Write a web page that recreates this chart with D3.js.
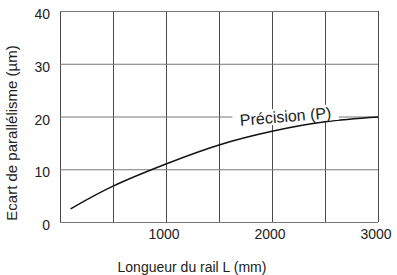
<!DOCTYPE html>
<html>
<head>
<meta charset="utf-8">
<script src="https://cdnjs.cloudflare.com/ajax/libs/d3/7.8.5/d3.min.js"></script>
<style>
    body { margin: 0; background: #fff; }
    svg { display: block; font-family: "Liberation Sans", Arial, Helvetica, sans-serif; }
    .grid path { display: none; }
</style>
</head>
<body>
<svg width="397" height="275"></svg>
<script>
// rail length (mm) and parallelism deviation (um)
var lengths = [100, 500, 1000, 1500, 2000, 2500, 3000];
var deviation = [2.5, 6.8, 11.0, 14.6, 17.2, 19.0, 19.9];

var xTicks = [1000, 2000, 3000];
var xGrid = [0, 500, 1000, 1500, 2000, 2500, 3000];
var yTicks = [0, 10, 20, 30, 40];

(() => {

    var width = 397;
    var height = 275;
    var margin = { top: 11, bottom: 53, left: 60, right: 19 };

    var svg = d3.select('svg');

    var x = d3.scaleLinear().domain([0, 3000]).range([margin.left, width - margin.right]);
    var y = d3.scaleLinear().domain([0, 40]).range([height - margin.bottom, margin.top]);

    // vertical grid lines
    svg.append("g")
        .attr("class", "grid")
        .attr('transform', 'translate(' + [0, height - margin.bottom] + ')')
        .call(d3.axisBottom(x).tickValues(xGrid).tickSize(-(height - margin.bottom - margin.top)).tickFormat(""))
        .selectAll("line").style("stroke", "#4a4a4a");

    // horizontal grid lines
    svg.append("g")
        .attr("class", "grid")
        .attr('transform', 'translate(' + [margin.left, 0] + ')')
        .call(d3.axisLeft(y).tickValues(yTicks).tickSize(-(width - margin.left - margin.right)).tickFormat(""))
        .selectAll("line").style("stroke", "#777");

    // x tick labels
    svg.append("g").selectAll("text")
        .data(xTicks)
        .enter().append("text")
        .attr("x", function (d) { return x(d) - 2; })
        .attr("y", 239)
        .attr("text-anchor", "middle")
        .attr("font-size", 14)
        .attr("fill", "#222")
        .text(function (d) { return d; });

    // y tick labels
    svg.append("g").selectAll("text")
        .data(yTicks)
        .enter().append("text")
        .attr("x", 50)
        .attr("y", function (d) { return y(d) + 8; })
        .attr("text-anchor", "end")
        .attr("font-size", 14)
        .attr("fill", "#222")
        .text(function (d) { return d; });

    // the curve
    var line = d3.line()
        .x(function (d, i) { return x(lengths[i]); })
        .y(function (d) { return y(d); })
        .curve(d3.curveNatural);

    svg.append("path")
        .datum(deviation)
        .attr("d", line)
        .attr("fill", "none")
        .attr("stroke", "#111")
        .attr("stroke-width", 1.4);

    // curve label, with a white box that cuts the grid
    var lab = svg.append("g")
        .attr("transform", "translate(286,122) rotate(-4.7)");
    lab.append("rect")
        .attr("x", -53).attr("y", -14)
        .attr("width", 106).attr("height", 16)
        .attr("fill", "#fff");
    lab.append("text")
        .attr("text-anchor", "middle")
        .attr("font-size", 16)
        .attr("fill", "#222")
        .text("Précision (P)");

    // axis titles
    svg.append("text")
        .attr("x", 192)
        .attr("y", 272)
        .attr("text-anchor", "middle")
        .attr("font-size", 14)
        .attr("fill", "#222")
        .text("Longueur du rail L (mm)");

    svg.append("text")
        .attr("transform", "translate(17,133) rotate(-90)")
        .attr("text-anchor", "middle")
        .attr("font-size", 15)
        .attr("fill", "#222")
        .text("Ecart de parallélisme (µm)");

})();
</script>
</body>
</html>
